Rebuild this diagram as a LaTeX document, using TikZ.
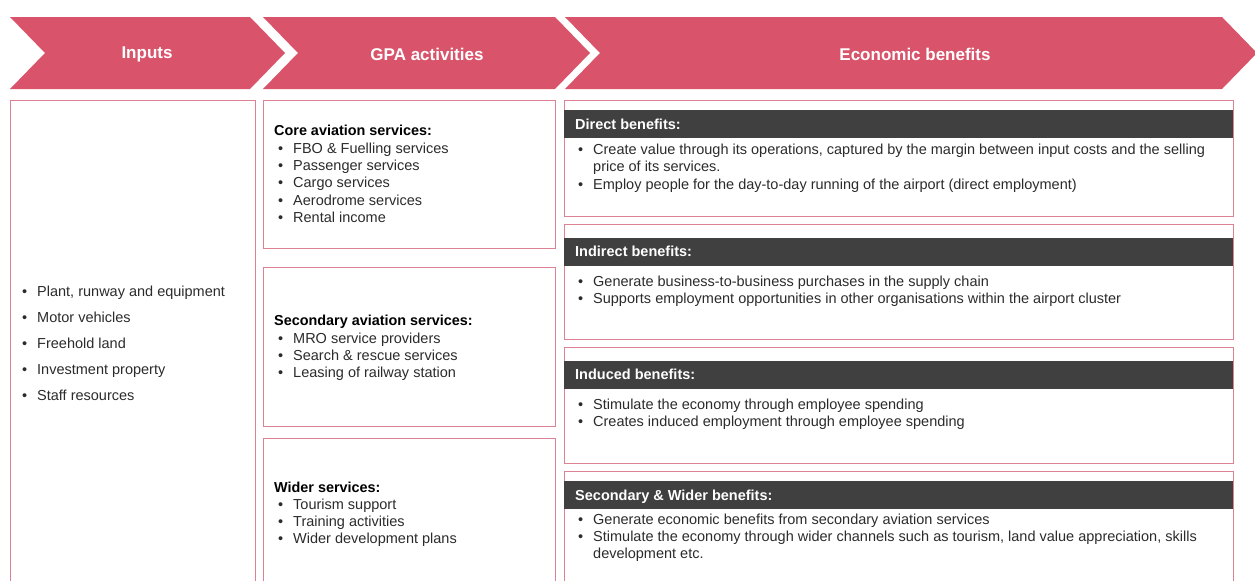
\documentclass[tikz,border=0pt]{standalone}
\usepackage{fontspec}
\setmainfont{Liberation Sans}
\definecolor{gparose}{HTML}{D9546B}
\definecolor{gpaline}{HTML}{DC8393}
\definecolor{gpabar}{HTML}{404040}
\definecolor{gpatext}{HTML}{2B2B2B}
\tikzset{
  chev/.style={fill=gparose},
  chevtext/.style={text=white, font=\fontsize{17}{20}\selectfont\bfseries},
  panel/.style={draw=gpaline, line width=0.9pt},
  bar/.style={fill=gpabar},
  bartitle/.style={anchor=base west, inner sep=0, text=white, font=\fontsize{14.5}{17}\selectfont\bfseries},
  title/.style={anchor=base west, inner sep=0, text=black, font=\fontsize{14.4}{17}\selectfont\bfseries},
  item/.style={anchor=base west, inner sep=0, text=gpatext, font=\fontsize{14.5}{17}\selectfont},
}
\newcommand{\bul}{\makebox[15pt][l]{•}}
\begin{document}
\begin{tikzpicture}[x=1pt,y=-1pt]
\useasboundingbox (0,0) rectangle (1255,581);
% chevrons
\fill[chev] (10,17) -- (250,17) -- (285,53) -- (250,89) -- (10,89) -- (45,53) -- cycle;
\node[chevtext] (hin) at (147,54.5) {Inputs};
\fill[chev] (263,17) -- (555,17) -- (590,53) -- (555,89) -- (263,89) -- (298,53) -- cycle;
\node[chevtext] (hgpa) at (427,54.5) {GPA activities};
\fill[chev] (565,17) -- (1222,17) -- (1257,53) -- (1222,89) -- (565,89) -- (600,53) -- cycle;
\node[chevtext] (heco) at (915,54.5) {Economic benefits};

% inputs
\draw[panel] (10,581) -- (10,100) -- (255,100) -- (255,581);
\foreach \t [count=\i] in {{Plant, runway and equipment},Motor vehicles,Freehold land,Investment property,Staff resources}
  \node[item] (inp\i) at (22,{296.5+26*(\i-1)}) {\bul\t};

% GPA activities
\draw[panel] (263,100) rectangle (555,248);
\node[title] (core) at (274,135.5) {Core aviation services:};
\foreach \t [count=\i] in {FBO \& Fuelling services,Passenger services,Cargo services,Aerodrome services,Rental income}
  \node[item] (core\i) at (278,{153.5+17.2*(\i-1)}) {\bul\t};
\draw[panel] (263,267) rectangle (555,426);
\node[title] (sec) at (274,325.5) {Secondary aviation services:};
\foreach \t [count=\i] in {MRO service providers,Search \& rescue services,Leasing of railway station}
  \node[item] (sec\i) at (278,{343.5+17.2*(\i-1)}) {\bul\t};
\draw[panel] (263,581) -- (263,438) -- (555,438) -- (555,581);
\node[title] (wid) at (274,492.5) {Wider services:};
\foreach \t [count=\i] in {Tourism support,Training activities,Wider development plans}
  \node[item] (wid\i) at (278,{509.5+17.2*(\i-1)}) {\bul\t};

% economic benefits
\draw[panel] (564,100) rectangle (1233,216);
\fill[bar] (564,110) rectangle (1233,138);
\node[bartitle] (dir) at (575,129.5) {Direct benefits:};
\node[item] (dir1) at (578,154.5) {\bul Create value through its operations, captured by the margin between input costs and the selling};
\node[item] (dir1b) at (578,171.5) {\hspace*{15pt}price of its services.};
\node[item] (dir2) at (578,189) {\bul Employ people for the day-to-day running of the airport (direct employment)};

\draw[panel] (564,224) rectangle (1233,339);
\fill[bar] (564,238) rectangle (1233,266);
\node[bartitle] (ind) at (575,256.5) {Indirect benefits:};
\node[item] (ind1) at (578,286.5) {\bul Generate business-to-business purchases in the supply chain};
\node[item] (ind2) at (578,303.5) {\bul Supports employment opportunities in other organisations within the airport cluster};

\draw[panel] (564,347) rectangle (1233,463);
\fill[bar] (564,361) rectangle (1233,389);
\node[bartitle] (idc) at (575,379.5) {Induced benefits:};
\node[item] (idc1) at (578,409.5) {\bul Stimulate the economy through employee spending};
\node[item] (idc2) at (578,426.5) {\bul Creates induced employment through employee spending};

\draw[panel] (564,581) -- (564,471) -- (1233,471) -- (1233,581);
\fill[bar] (564,481) rectangle (1233,509);
\node[bartitle] (swb) at (575,500.5) {Secondary \& Wider benefits:};
\node[item] (swb1) at (578,524.5) {\bul Generate economic benefits from secondary aviation services};
\node[item] (swb2) at (578,541.5) {\bul Stimulate the economy through wider channels such as tourism, land value appreciation, skills};
\node[item] (swb2b) at (578,558.5) {\hspace*{15pt}development etc.};
\end{tikzpicture}
\end{document}
